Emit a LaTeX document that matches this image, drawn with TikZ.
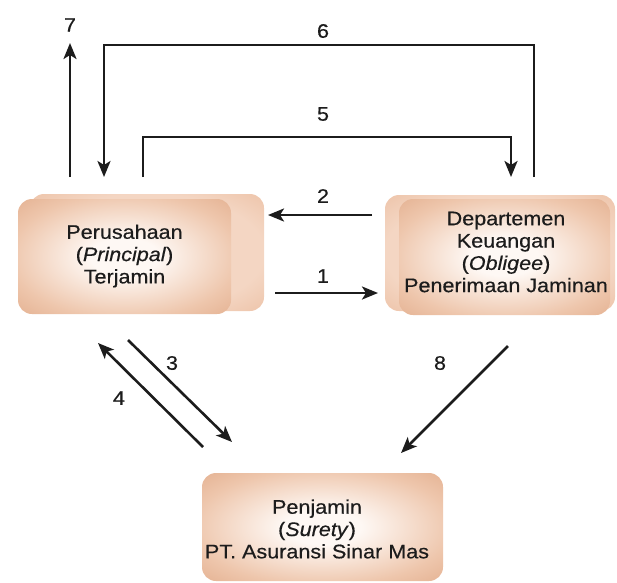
\documentclass[tikz,border=0pt]{standalone}
\usepackage{fontspec}
\setmainfont{Liberation Sans}[FakeStretch=1.1,FakeBold=0.5]
\usetikzlibrary{arrows.meta}
\definecolor{inkc}{HTML}{1C1C1C}
\definecolor{boxc}{HTML}{D99A74}
\definecolor{boxm}{HTML}{EEC6AC}
\definecolor{boxl}{HTML}{FEF8F4}
\definecolor{backc}{HTML}{E6B18F}
\definecolor{backl}{HTML}{F4D6C3}
\pgfdeclareradialshading{frontshade}{\pgfpoint{0bp}{0bp}}{color(0bp)=(boxl); color(8bp)=(boxl); color(27bp)=(boxm); color(47bp)=(boxc); color(50bp)=(boxc)}
\pgfdeclareradialshading{backshade}{\pgfpoint{0bp}{0bp}}{color(0bp)=(backl); color(25bp)=(backl); color(47bp)=(backc); color(50bp)=(backc)}
\tikzset{
  frontbox/.style={shade, shading=frontshade, rounded corners=14pt, inner sep=0pt},
  backbox/.style={shade, shading=backshade, rounded corners=14pt, inner sep=0pt},
  boxtext/.style={text=inkc, align=center, font=\fontsize{19.6}{22.3}\selectfont, inner sep=0pt},
  numlabel/.style={text=inkc, font=\fontsize{19.6}{22.3}\selectfont, inner sep=0pt},
  flow/.style={draw=inkc, line width=2.6pt, -{Stealth[length=16pt,width=13pt,inset=4pt]}}
}
\begin{document}
\begin{tikzpicture}[x=1pt,y=-1pt]
\useasboundingbox (0,0) rectangle (617,582);
% left box
\node[backbox, minimum width=234pt, minimum height=117pt] (lback) at (147,252.5) {};
\node[frontbox, minimum width=213pt, minimum height=115pt] (lfront) at (124.5,256.5) {};
\node[boxtext] (ltext) at (124.5,256) {Perusahaan\\(\textit{Principal})\\Terjamin};
% right box
\node[backbox, minimum width=230pt, minimum height=116pt] (rback) at (500,253) {};
\node[frontbox, minimum width=211pt, minimum height=116pt] (rfront) at (504.5,257) {};
\node[boxtext] (rtext) at (506,252) {Departemen\\Keuangan\\(\textit{Obligee})\\Penerimaan Jaminan};
% bottom box
\node[frontbox, minimum width=241pt, minimum height=108pt] (bfront) at (322.5,527) {};
\node[boxtext] (btext) at (317,529) {Penjamin\\(\textit{Surety})\\PT. Asuransi Sinar Mas};
% coordinates
\coordinate (a7s) at (70,177);
\coordinate (a7e) at (70,43);
\coordinate (a6s) at (534,177);
\coordinate (a6e) at (104,177);
\coordinate (a5s) at (143,177);
\coordinate (a5e) at (511,177);
\coordinate (a2s) at (372,215);
\coordinate (a2e) at (268,215);
\coordinate (a1s) at (275,293);
\coordinate (a1e) at (378,293);
\coordinate (a3s) at (128,340);
\coordinate (a3e) at (232,442);
\coordinate (a4s) at (203,447);
\coordinate (a4e) at (98,343);
\coordinate (a8s) at (508,346);
\coordinate (a8e) at (401,453);
% arrows
\draw[flow] (a7s) -- (a7e);
\draw[flow] (a6s) -- (534,45) -- (104,45) -- (a6e);
\draw[flow] (a5s) -- (143,137) -- (511,137) -- (a5e);
\draw[flow] (a2s) -- (a2e);
\draw[flow] (a1s) -- (a1e);
\draw[flow] (a3s) -- (a3e);
\draw[flow] (a4s) -- (a4e);
\draw[flow] (a8s) -- (a8e);
% labels
\node[numlabel] (n7) at (70,25) {7};
\node[numlabel] (n6) at (323,31) {6};
\node[numlabel] (n5) at (323,114) {5};
\node[numlabel] (n2) at (323,196) {2};
\node[numlabel] (n1) at (323,276) {1};
\node[numlabel] (n3) at (172,363) {3};
\node[numlabel] (n4) at (119,398) {4};
\node[numlabel] (n8) at (440,363) {8};
\end{tikzpicture}
\end{document}
